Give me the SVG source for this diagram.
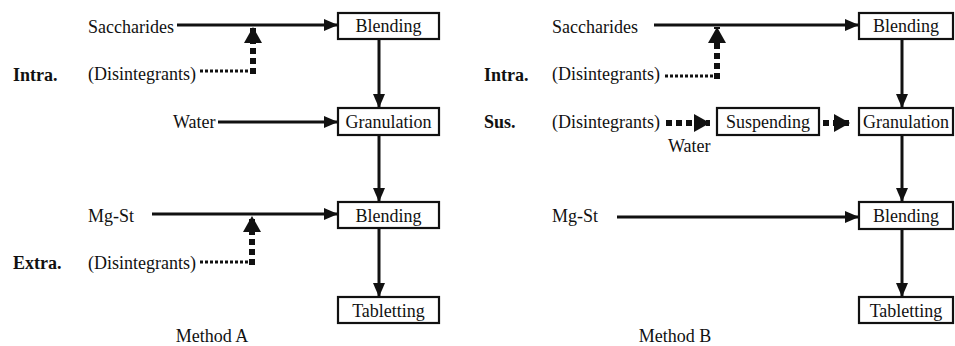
<svg xmlns="http://www.w3.org/2000/svg" width="955" height="346" viewBox="0 0 955 346" font-family="'Liberation Serif', serif">
<style>
text{font-family:'Liberation Serif',serif;font-size:18px;fill:#111}
.b{font-weight:bold}
.m{text-anchor:middle}
.box{fill:#fff;stroke:#111;stroke-width:2.2}
.ln{stroke:#111;stroke-width:3;fill:none}
.dash{stroke:#111;stroke-width:6;fill:none;stroke-dasharray:6 4}
.dot{stroke:#111;stroke-width:3;fill:none;stroke-dasharray:3 2}
</style>
<defs>
<marker id="ah" markerUnits="userSpaceOnUse" markerWidth="14" markerHeight="12" refX="14" refY="6" orient="auto"><path d="M0,0 L14,6 L0,12 Z" fill="#111"/></marker>
<marker id="bh" markerUnits="userSpaceOnUse" markerWidth="16" markerHeight="18" refX="16" refY="9" orient="auto"><path d="M0,0 L16,9 L0,18 Z" fill="#111"/></marker>
</defs>
<rect width="955" height="346" fill="#fff"/>
<g id="connectors">
<line class="ln" x1="177" y1="25" x2="338" y2="25" marker-end="url(#ah)"/>
<line class="ln" x1="218" y1="122" x2="338" y2="122" marker-end="url(#ah)"/>
<line class="ln" x1="152" y1="214" x2="338" y2="214" marker-end="url(#ah)"/>
<line class="ln" x1="379" y1="39" x2="379" y2="108" marker-end="url(#ah)"/>
<line class="ln" x1="379" y1="135" x2="379" y2="202" marker-end="url(#ah)"/>
<line class="ln" x1="379" y1="228" x2="379" y2="297" marker-end="url(#ah)"/>
<line class="dot" x1="200" y1="71" x2="250" y2="71"/>
<line class="dash" x1="253" y1="74" x2="253" y2="27" marker-end="url(#bh)"/>
<line class="dot" x1="200" y1="262" x2="249" y2="262"/>
<line class="dash" x1="252" y1="265" x2="252" y2="216" marker-end="url(#bh)"/>
<line class="ln" x1="654" y1="25" x2="859" y2="25" marker-end="url(#ah)"/>
<line class="ln" x1="617" y1="217" x2="859" y2="217" marker-end="url(#ah)"/>
<line class="ln" x1="902" y1="39" x2="902" y2="108" marker-end="url(#ah)"/>
<line class="ln" x1="902" y1="135" x2="902" y2="202" marker-end="url(#ah)"/>
<line class="ln" x1="902" y1="229" x2="902" y2="297" marker-end="url(#ah)"/>
<line class="dot" x1="665" y1="76" x2="714" y2="76"/>
<line class="dash" x1="717" y1="79" x2="717" y2="27" marker-end="url(#bh)"/>
<line class="dash" x1="666" y1="123" x2="710" y2="123" marker-end="url(#bh)"/>
<line class="dash" x1="823" y1="123" x2="850" y2="123" marker-end="url(#bh)"/>
</g>
<g id="labelsA">
<text x="88" y="33">Saccharides</text>
<text x="13" y="81" class="b">Intra.</text>
<text x="88" y="80">(Disintegrants)</text>
<text x="173" y="128">Water</text>
<text x="88" y="222">Mg-St</text>
<text x="13" y="269" class="b">Extra.</text>
<text x="88" y="269">(Disintegrants)</text>
<text x="212" y="342" class="m">Method A</text>
</g>
<g id="A-blending1"><rect class="box" x="338" y="13" width="101" height="26"/><text x="388.5" y="32" class="m">Blending</text></g>
<g id="A-granulation"><rect class="box" x="338" y="108" width="101" height="27"/><text x="388.5" y="128" class="m">Granulation</text></g>
<g id="A-blending2"><rect class="box" x="338" y="202" width="101" height="26"/><text x="388.5" y="222" class="m">Blending</text></g>
<g id="A-tabletting"><rect class="box" x="338" y="297" width="101" height="26"/><text x="388.5" y="317" class="m">Tabletting</text></g>
<g id="labelsB">
<text x="552" y="33">Saccharides</text>
<text x="484" y="81" class="b">Intra.</text>
<text x="552" y="80">(Disintegrants)</text>
<text x="484" y="128" class="b">Sus.</text>
<text x="552" y="128">(Disintegrants)</text>
<text x="668" y="152">Water</text>
<text x="552" y="222">Mg-St</text>
<text x="675" y="342" class="m">Method B</text>
</g>
<g id="B-suspending"><rect class="box" x="717" y="108" width="102" height="27"/><text x="768" y="128" class="m">Suspending</text></g>
<g id="B-blending1"><rect class="box" x="859" y="13" width="94" height="26"/><text x="906" y="32" class="m">Blending</text></g>
<g id="B-granulation"><rect class="box" x="859" y="108" width="94" height="27"/><text x="906" y="128" class="m">Granulation</text></g>
<g id="B-blending2"><rect class="box" x="859" y="202" width="94" height="27"/><text x="906" y="222" class="m">Blending</text></g>
<g id="B-tabletting"><rect class="box" x="859" y="297" width="94" height="26"/><text x="906" y="317" class="m">Tabletting</text></g>
</svg>
